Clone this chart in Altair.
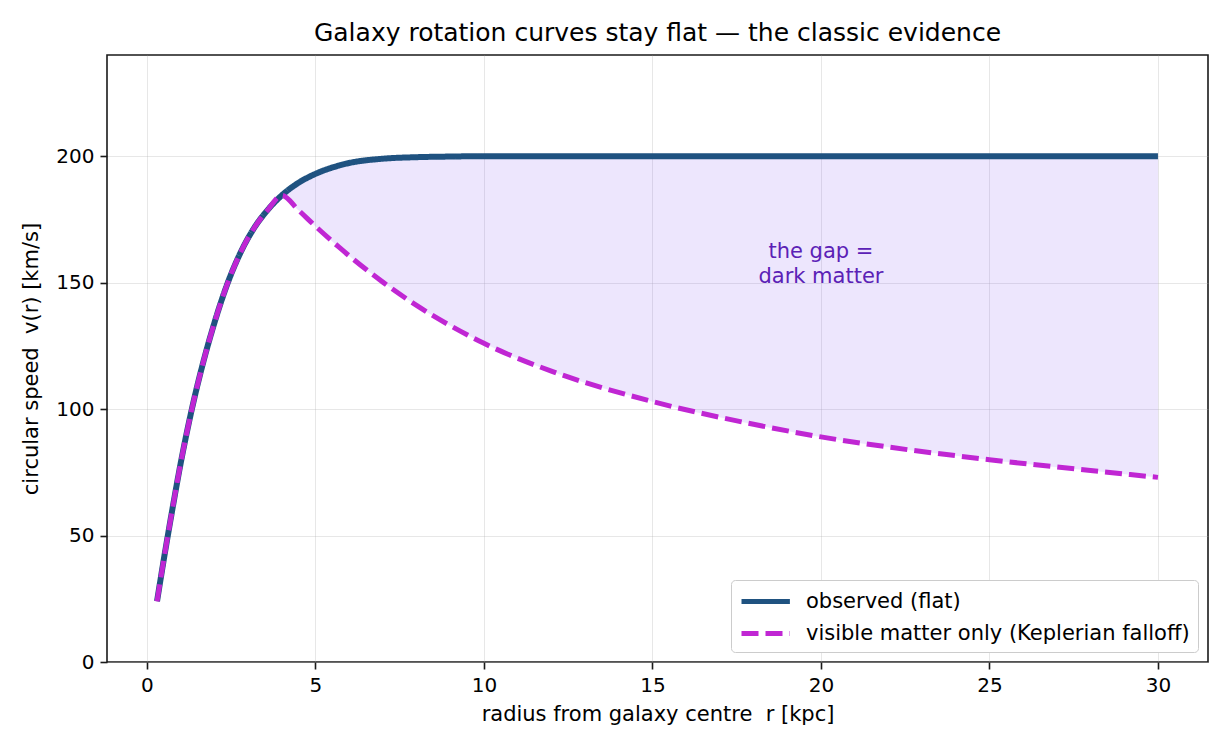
import altair as alt
import pandas as pd

# radius grid [kpc]
r = [0.3, 0.5, 0.75, 1.0, 1.35, 1.7, 2.0, 2.4, 2.8, 3.2, 3.6, 4.0, 4.5, 5.0, 5.7,
     6.0, 7.0, 8.0, 9.0, 10, 12, 15, 18, 20, 22, 25, 28, 30]
# observed (flat) rotation curve [km/s]
v_obs = [24, 40.5, 60, 78.5, 101, 120, 134, 150, 162.5, 172, 179, 184.5, 189.5, 193, 196.3,
         197.3, 199, 199.6, 199.85, 200, 200, 200, 200, 200, 200, 200, 200, 200]
# visible matter only (Keplerian falloff) [km/s]
v_vis = [24, 40.5, 60, 78.5, 101, 120, 134, 150, 162.5, 172, 179, 184.5, 178.6, 172.3, 164,
         160.6, 150.2, 141, 133, 126, 115, 103, 94, 89, 85, 80, 75.7, 73]

series_names = ["observed (flat)", "visible matter only (Keplerian falloff)"]
x_ticks = [0, 5, 10, 15, 20, 25, 30]
y_ticks = [0, 50, 100, 150, 200]
annot_r, annot_v, annot_text = [20], [162], ["the gap =\ndark matter"]

FONT = "DejaVu Sans"
NB = "\u00a0"

df_obs = pd.DataFrame({"r": r, "v": v_obs, "series": series_names[0]})
df_vis = pd.DataFrame({"r": r, "v": v_vis, "series": series_names[1]})
df_gap = pd.DataFrame({"r": r, "lo": v_vis, "hi": v_obs})
df_gap = df_gap[df_gap["r"] >= 4.0]
df_txt = pd.DataFrame({"r": annot_r, "v": annot_v, "t": annot_text})

xscale = alt.Scale(domain=[-1.185, 31.485], nice=False, zero=False)
yscale = alt.Scale(domain=[0, 240], nice=False)
xaxis = alt.Axis(values=x_ticks, title=f"radius from galaxy centre {NB}r [kpc]", format="d")
yaxis = alt.Axis(values=y_ticks, title=f"circular speed {NB}v(r) [km/s]", format="d")

color = alt.Color("series:N", title=None,
                  scale=alt.Scale(domain=series_names, range=["#1f5280", "#c026d3"]),
                  legend=alt.Legend(orient="bottom-right", offset=10))
dash = alt.StrokeDash("series:N", title=None,
                      scale=alt.Scale(domain=series_names, range=[[1, 0], [17, 7]]))

area = alt.Chart(df_gap).mark_area(color="#8b5cf6", opacity=0.15,
                                   stroke="#8b5cf6", strokeOpacity=0.25, strokeWidth=1,
                                   interpolate="monotone").encode(
    x=alt.X("r:Q", scale=xscale, axis=xaxis),
    y=alt.Y("lo:Q", scale=yscale, axis=yaxis),
    y2="hi:Q",
)

line_obs = alt.Chart(df_obs).mark_line(strokeWidth=6, interpolate="monotone").encode(
    x=alt.X("r:Q", scale=xscale),
    y=alt.Y("v:Q", scale=yscale),
    color=color,
    strokeDash=dash,
)

line_vis = alt.Chart(df_vis).mark_line(strokeWidth=5, interpolate="monotone").encode(
    x=alt.X("r:Q", scale=xscale),
    y=alt.Y("v:Q", scale=yscale),
    color=color,
    strokeDash=dash,
)

txt = alt.Chart(df_txt).mark_text(font=FONT, fontSize=21, color="#5b21b6",
                                  lineBreak="\n", lineHeight=25, baseline="middle",
                                  align="center").encode(
    x=alt.X("r:Q", scale=xscale),
    y=alt.Y("v:Q", scale=yscale),
    text="t:N",
)

chart = alt.layer(area, line_obs, line_vis, txt).properties(
    width=1101, height=607,
    autosize=alt.AutoSizeParams(type="none"),
    padding={"left": 99, "top": 47, "right": 14, "bottom": 80},
    title=alt.Title("Galaxy rotation curves stay flat — the classic evidence",
                    font=FONT, fontSize=25, fontWeight="normal", color="black", offset=9),
).configure_view(
    stroke="#1a1a1a", strokeWidth=1.6
).configure_axis(
    domain=False, tickColor="#1a1a1a", tickWidth=1.6, tickSize=7,
    labelFont=FONT, labelFontSize=20, labelColor="black", labelPadding=6,
    titleFont=FONT, titleFontSize=21, titleColor="black", titleFontWeight="normal",
    grid=True, gridColor="#b0b0b0", gridOpacity=0.3, gridWidth=1,
).configure_axisX(titlePadding=8).configure_axisY(titlePadding=14).configure_legend(
    fillColor="white", strokeColor="#cccccc", cornerRadius=4, padding=8,
    labelFont=FONT, labelFontSize=21, labelColor="black", labelOffset=40, labelLimit=1000,
    symbolType="M-1,0L3.4,0", symbolSize=484, symbolStrokeWidth=5, rowPadding=8,
    symbolFillColor="transparent",
)

chart.save("out.html", embed_options={"renderer": "svg", "actions": False})
